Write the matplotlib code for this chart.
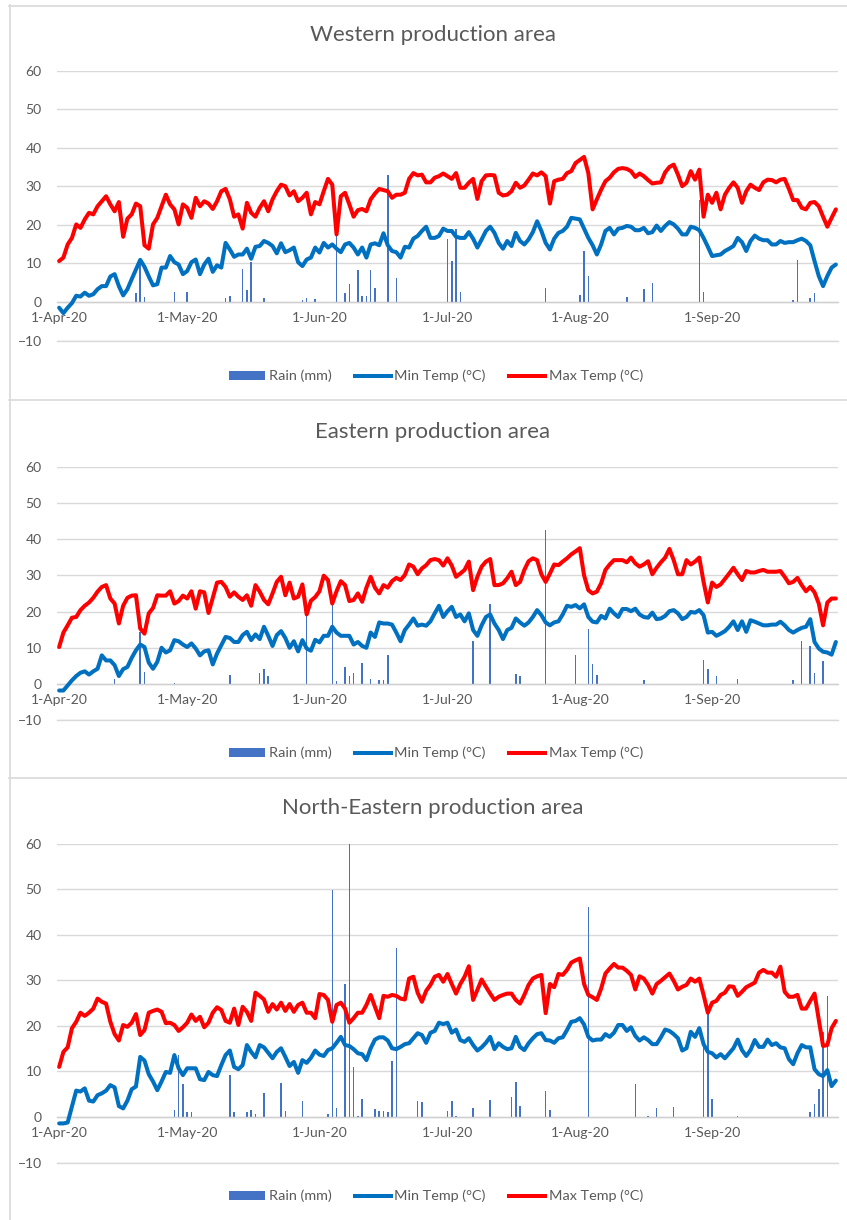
import matplotlib
matplotlib.use("Agg")
import matplotlib.pyplot as plt
import matplotlib.dates as mdates
import numpy as np
import pandas as pd
from matplotlib.lines import Line2D
from matplotlib.patches import Patch

plt.rcParams['font.family'] = ['Lato', 'DejaVu Sans']

# ---------------------------------------------------------------- data
season_days = pd.date_range('2020-04-01', '2020-09-30', freq='D')

west_title = 'Western production area'
west_max = [
    10.6, 11.5, 14.9, 16.6, 20.1, 19.2, 21.4, 23.1, 22.7, 24.8,
    26.1, 27.4, 25.3, 23.5, 25.9, 16.9, 21.6, 22.7, 25.5, 24.8,
    14.7, 13.8, 20.1, 21.8, 24.8, 27.8, 25.3, 24.0, 20.1, 25.3,
    24.4, 21.8, 27.0, 24.8, 26.1, 25.5, 24.1, 26.1, 28.7, 29.3,
    26.6, 22.1, 22.7, 19.0, 25.7, 23.1, 22.1, 24.4, 26.1, 23.5,
    26.6, 28.7, 30.4, 30.0, 27.6, 28.7, 26.1, 27.0, 28.3, 22.7,
    25.9, 25.3, 28.7, 31.9, 30.4, 17.5, 27.4, 28.3, 25.3, 22.1,
    23.8, 24.1, 23.5, 26.6, 28.1, 29.3, 29.0, 28.7, 27.0, 27.8,
    27.8, 28.3, 31.9, 33.4, 32.8, 33.0, 31.0, 31.0, 32.2, 32.6,
    33.3, 32.6, 31.9, 33.4, 29.6, 29.6, 30.9, 31.9, 26.7, 31.3,
    32.8, 32.9, 32.8, 28.3, 27.6, 27.8, 28.7, 30.9, 29.6, 30.2,
    31.7, 33.3, 32.8, 33.6, 32.6, 25.5, 31.3, 31.7, 31.9, 33.4,
    33.9, 36.0, 36.8, 37.6, 33.4, 24.0, 26.6, 29.1, 31.3, 32.2,
    33.6, 34.5, 34.7, 34.5, 33.9, 32.4, 33.3, 32.6, 31.6, 30.7,
    30.9, 31.0, 33.6, 35.0, 35.6, 33.0, 30.0, 30.9, 33.9, 31.7,
    34.3, 22.1, 27.8, 25.7, 28.3, 24.0, 27.8, 29.6, 31.0, 29.6,
    25.7, 28.7, 30.4, 29.6, 29.0, 31.0, 31.7, 31.6, 31.0, 31.7,
    31.9, 29.3, 26.4, 26.4, 24.4, 24.0, 25.7, 25.9, 24.8, 22.1,
    19.5, 21.8, 24.0,
]
west_min = [
    -1.5, -2.9, -1.5, -0.3, 1.6, 1.4, 2.4, 1.6, 2.0, 3.3,
    4.1, 4.1, 6.6, 7.2, 4.1, 1.7, 3.3, 5.9, 8.4, 10.9,
    9.1, 6.6, 4.3, 4.6, 8.9, 8.9, 11.9, 10.3, 9.7, 7.2,
    8.0, 10.3, 11.0, 7.2, 9.7, 11.2, 7.8, 9.5, 8.9, 15.3,
    13.6, 11.7, 12.3, 12.3, 13.8, 11.2, 14.3, 14.5, 15.8, 15.3,
    14.5, 12.6, 15.2, 12.9, 13.4, 14.1, 10.3, 9.3, 11.0, 11.5,
    14.1, 12.8, 15.3, 14.1, 14.9, 13.8, 12.9, 14.9, 15.3, 14.1,
    12.3, 14.1, 11.5, 14.9, 15.2, 14.7, 17.8, 14.7, 13.2, 12.9,
    11.5, 14.3, 14.1, 16.4, 17.1, 18.4, 19.5, 16.6, 16.6, 17.1,
    19.0, 18.4, 18.4, 16.9, 16.6, 16.6, 18.1, 16.4, 14.1, 16.2,
    18.4, 19.5, 17.9, 15.3, 13.8, 15.8, 14.5, 17.9, 15.8, 14.9,
    16.2, 18.1, 20.9, 18.4, 15.3, 13.6, 16.4, 17.9, 18.4, 19.5,
    21.8, 21.6, 21.4, 19.0, 16.6, 14.7, 12.3, 14.9, 18.4, 19.2,
    17.5, 19.0, 19.2, 19.7, 19.5, 18.6, 18.6, 19.2, 17.8, 18.1,
    19.8, 18.4, 19.7, 20.7, 20.1, 19.0, 17.5, 17.5, 19.5, 19.2,
    18.6, 16.6, 14.3, 11.9, 12.1, 12.3, 13.2, 13.8, 14.5, 16.6,
    15.5, 13.2, 15.8, 17.2, 16.4, 16.0, 16.0, 14.9, 14.9, 15.8,
    15.3, 15.5, 15.5, 16.0, 16.4, 15.8, 14.7, 10.6, 6.7, 4.1,
    6.7, 8.9, 9.7,
]
west_rain_dates = [
    '2020-04-19', '2020-04-20', '2020-04-21', '2020-04-28', '2020-05-01',
    '2020-05-10', '2020-05-11', '2020-05-14', '2020-05-15', '2020-05-16',
    '2020-05-19', '2020-05-28', '2020-05-29', '2020-05-31', '2020-06-05',
    '2020-06-07', '2020-06-08', '2020-06-10', '2020-06-11', '2020-06-12',
    '2020-06-13', '2020-06-14', '2020-06-17', '2020-06-19', '2020-07-01',
    '2020-07-02', '2020-07-03', '2020-07-04', '2020-07-24', '2020-08-01',
    '2020-08-02', '2020-08-03', '2020-08-12', '2020-08-16', '2020-08-18',
    '2020-08-29', '2020-08-30', '2020-09-20', '2020-09-21', '2020-09-24',
    '2020-09-25',
]
west_rain_mm = [
    2.4, 11.2, 1.3, 2.6, 2.6,
    0.9, 1.6, 8.6, 3.0, 10.3,
    1.1, 0.5, 0.9, 0.8, 19.5,
    2.4, 4.6, 8.2, 1.6, 1.6,
    8.4, 3.7, 32.8, 6.3, 16.4,
    10.6, 19.0, 2.6, 3.7, 1.7,
    13.2, 6.7, 1.3, 3.4, 5.0,
    26.3, 2.6, 0.4, 11.0, 1.1,
    2.2,
]

east_title = 'Eastern production area'
east_max = [
    10.2, 14.2, 16.2, 18.3, 18.5, 20.4, 21.6, 22.5, 23.8, 25.5,
    26.8, 27.3, 23.6, 22.2, 16.7, 21.6, 23.8, 24.4, 24.5, 15.3,
    13.9, 19.5, 21.0, 24.5, 24.4, 24.4, 25.6, 22.2, 22.9, 24.4,
    23.6, 25.6, 20.8, 25.6, 25.3, 19.6, 23.8, 28.0, 28.2, 26.8,
    24.1, 25.3, 24.1, 23.2, 24.5, 21.6, 27.3, 25.5, 23.2, 22.0,
    25.0, 28.2, 29.6, 24.5, 28.0, 23.6, 24.1, 27.5, 19.2, 23.0,
    24.0, 25.6, 29.9, 28.7, 22.2, 25.6, 28.4, 27.3, 22.9, 23.2,
    25.0, 22.7, 26.6, 29.6, 26.6, 25.0, 27.3, 26.6, 28.4, 29.3,
    28.7, 30.1, 33.0, 32.4, 30.3, 31.9, 32.8, 34.2, 34.5, 34.2,
    32.7, 34.7, 32.7, 29.6, 30.5, 31.5, 33.8, 25.9, 29.6, 32.4,
    33.8, 34.5, 27.3, 27.3, 27.8, 29.2, 31.0, 27.3, 28.2, 31.5,
    33.9, 34.7, 34.2, 30.3, 28.2, 30.5, 33.0, 32.8, 33.8, 34.7,
    35.8, 36.6, 37.5, 30.0, 25.9, 25.0, 25.5, 27.8, 31.5, 33.0,
    34.2, 34.2, 34.2, 33.6, 34.9, 33.3, 32.4, 33.0, 33.9, 30.3,
    32.1, 33.6, 34.9, 37.3, 34.2, 30.3, 30.3, 34.2, 33.0, 33.8,
    34.9, 28.2, 22.5, 28.0, 26.8, 27.5, 29.0, 30.5, 32.1, 30.3,
    28.7, 31.2, 30.8, 30.8, 31.2, 31.5, 31.0, 31.0, 31.0, 31.2,
    29.6, 27.8, 28.2, 29.3, 27.3, 25.6, 26.8, 25.3, 22.2, 16.2,
    22.5, 23.6, 23.6,
]
east_min = [
    -1.8, -1.8, -0.4, 1.0, 2.2, 3.1, 3.5, 2.6, 3.5, 4.2,
    7.9, 6.5, 6.5, 5.2, 2.2, 4.1, 4.7, 7.2, 9.3, 10.9,
    10.2, 5.9, 4.2, 6.1, 10.0, 8.7, 9.3, 12.1, 11.8, 10.9,
    10.2, 11.2, 9.8, 7.9, 9.0, 9.3, 5.4, 8.4, 10.7, 13.0,
    12.7, 11.6, 11.6, 13.5, 14.4, 12.1, 13.7, 12.4, 15.8, 13.3,
    10.5, 13.5, 14.6, 12.7, 10.0, 11.8, 9.0, 12.1, 9.8, 9.2,
    12.2, 11.5, 13.3, 13.3, 15.8, 14.2, 13.3, 13.3, 13.3, 10.9,
    11.6, 10.5, 10.0, 14.2, 13.0, 17.0, 16.7, 16.7, 16.4, 14.2,
    11.8, 14.9, 16.4, 18.1, 16.1, 16.4, 16.1, 17.3, 19.5, 21.6,
    18.5, 20.1, 21.3, 18.5, 19.2, 17.3, 19.5, 14.9, 13.3, 16.2,
    18.5, 19.2, 16.7, 14.9, 12.4, 14.9, 15.5, 18.1, 17.0, 16.1,
    17.0, 18.5, 20.4, 19.0, 17.0, 16.2, 17.0, 17.3, 19.2, 21.6,
    21.3, 21.8, 20.9, 22.0, 18.5, 17.2, 17.0, 18.8, 18.1, 20.8,
    19.5, 18.5, 20.7, 20.7, 20.1, 20.8, 19.2, 18.5, 18.3, 19.7,
    17.9, 18.1, 18.8, 20.1, 20.4, 19.5, 17.9, 18.5, 19.9, 19.7,
    20.4, 19.0, 14.2, 14.4, 13.3, 13.9, 14.6, 15.8, 17.3, 14.9,
    17.3, 14.4, 17.6, 17.2, 16.7, 16.2, 16.2, 16.4, 16.4, 17.2,
    16.2, 14.9, 14.2, 14.9, 15.5, 15.8, 17.9, 11.6, 9.8, 8.9,
    8.7, 8.1, 11.6,
]
east_rain_dates = [
    '2020-04-14', '2020-04-20', '2020-04-21', '2020-04-28', '2020-05-11',
    '2020-05-18', '2020-05-19', '2020-05-20', '2020-05-29', '2020-06-04',
    '2020-06-05', '2020-06-07', '2020-06-08', '2020-06-09', '2020-06-11',
    '2020-06-13', '2020-06-15', '2020-06-16', '2020-06-17', '2020-07-07',
    '2020-07-11', '2020-07-17', '2020-07-18', '2020-07-24', '2020-07-31',
    '2020-08-03', '2020-08-04', '2020-08-05', '2020-08-16', '2020-08-30',
    '2020-08-31', '2020-09-02', '2020-09-07', '2020-09-20', '2020-09-22',
    '2020-09-24', '2020-09-25', '2020-09-27',
]
east_rain_mm = [
    1.5, 14.4, 3.3, 0.4, 2.6,
    2.9, 4.1, 2.2, 19.2, 22.2,
    0.8, 4.7, 2.2, 3.0, 5.8,
    1.5, 1.0, 1.0, 7.9, 11.8,
    22.2, 2.7, 2.2, 42.5, 7.9,
    15.3, 5.4, 2.4, 1.2, 6.7,
    4.2, 2.1, 1.5, 1.0, 11.8,
    10.4, 3.0, 6.3,
]

ne_title = 'North-Eastern production area'
ne_max = [
    11.0, 14.3, 15.3, 19.5, 20.9, 22.9, 22.2, 22.9, 23.8, 26.0,
    25.3, 24.9, 20.9, 18.2, 16.8, 20.2, 19.8, 20.7, 22.6, 18.0,
    19.1, 22.9, 23.3, 23.6, 23.1, 20.6, 20.7, 20.2, 18.9, 19.7,
    20.7, 22.5, 21.1, 22.0, 19.7, 20.7, 22.9, 24.1, 23.5, 21.1,
    20.7, 23.8, 20.2, 24.2, 23.1, 21.1, 27.3, 26.6, 25.8, 23.1,
    24.8, 23.6, 25.1, 23.3, 24.8, 23.1, 24.6, 25.1, 22.9, 22.9,
    21.7, 27.0, 26.8, 25.7, 20.9, 24.6, 25.1, 23.8, 20.7, 21.7,
    22.9, 22.9, 24.6, 26.8, 24.2, 21.7, 26.6, 26.4, 26.8, 26.6,
    26.0, 25.8, 30.4, 30.8, 27.3, 25.3, 27.7, 29.0, 30.8, 31.2,
    29.7, 31.4, 29.2, 27.1, 29.2, 30.8, 33.1, 25.7, 27.9, 30.2,
    28.6, 27.1, 25.7, 26.4, 26.8, 27.1, 27.1, 25.7, 24.9, 26.8,
    29.0, 30.4, 30.9, 31.2, 22.8, 29.2, 28.5, 31.4, 31.2, 32.3,
    33.9, 34.4, 34.8, 29.2, 26.8, 26.3, 25.7, 28.2, 31.5, 32.6,
    33.6, 32.8, 32.8, 32.1, 31.2, 28.0, 30.9, 30.4, 29.0, 27.1,
    29.2, 29.9, 30.7, 31.5, 29.9, 28.0, 28.6, 29.0, 30.4, 29.7,
    30.4, 26.8, 22.9, 25.1, 25.5, 26.8, 27.3, 28.7, 28.6, 26.6,
    27.5, 28.5, 29.0, 29.5, 31.7, 32.3, 31.7, 31.7, 30.8, 33.0,
    27.5, 26.4, 26.4, 26.8, 23.8, 23.8, 25.5, 27.1, 21.4, 15.6,
    15.8, 19.5, 21.1,
]
ne_min = [
    -1.4, -1.4, -1.2, 2.3, 5.8, 5.6, 6.3, 3.6, 3.4, 4.8,
    5.2, 5.8, 7.0, 6.5, 2.4, 1.9, 3.6, 6.1, 6.7, 13.2,
    12.4, 9.4, 7.8, 5.9, 7.8, 9.9, 9.7, 13.6, 10.7, 9.2,
    10.7, 10.7, 10.7, 8.3, 8.1, 9.9, 9.2, 9.0, 11.4, 13.6,
    14.6, 11.0, 10.5, 11.4, 15.8, 14.3, 13.1, 15.8, 15.3, 14.1,
    12.9, 14.3, 15.1, 13.2, 11.2, 12.1, 9.7, 12.5, 11.9, 13.0,
    14.6, 13.7, 13.4, 14.7, 15.1, 16.3, 17.6, 15.8, 15.6, 14.9,
    14.0, 13.8, 12.5, 15.1, 17.0, 17.5, 17.5, 16.8, 15.1, 14.9,
    15.4, 16.0, 16.2, 17.3, 18.4, 18.0, 16.3, 18.5, 18.9, 20.7,
    20.4, 20.7, 18.5, 19.2, 16.9, 16.5, 17.3, 15.8, 14.6, 15.3,
    16.3, 17.6, 14.9, 16.2, 15.4, 14.9, 15.1, 17.6, 15.4, 14.7,
    16.2, 17.3, 18.2, 18.4, 16.9, 16.8, 16.3, 17.3, 17.5, 19.1,
    20.9, 21.1, 21.7, 20.3, 17.6, 16.8, 17.0, 17.0, 18.2, 17.6,
    18.5, 20.2, 20.2, 18.9, 19.7, 17.8, 16.8, 17.5, 16.9, 16.0,
    16.0, 17.5, 19.2, 18.9, 18.2, 17.3, 14.6, 15.1, 18.7, 17.6,
    19.5, 16.0, 14.3, 14.0, 13.1, 13.8, 12.9, 14.0, 15.1, 17.0,
    14.7, 13.4, 14.7, 16.9, 15.4, 15.4, 17.0, 15.8, 16.2, 15.3,
    15.1, 12.7, 11.6, 14.0, 15.8, 15.3, 15.3, 10.5, 9.4, 9.0,
    10.3, 6.8, 8.0,
]
ne_rain_dates = [
    '2020-04-28', '2020-04-29', '2020-04-30', '2020-05-01', '2020-05-02',
    '2020-05-11', '2020-05-12', '2020-05-15', '2020-05-16', '2020-05-17',
    '2020-05-19', '2020-05-23', '2020-05-24', '2020-05-28', '2020-06-03',
    '2020-06-04', '2020-06-05', '2020-06-07', '2020-06-08', '2020-06-09',
    '2020-06-10', '2020-06-11', '2020-06-14', '2020-06-15', '2020-06-16',
    '2020-06-17', '2020-06-18', '2020-06-19', '2020-06-24', '2020-06-25',
    '2020-07-01', '2020-07-02', '2020-07-03', '2020-07-07', '2020-07-11',
    '2020-07-16', '2020-07-17', '2020-07-18', '2020-07-24', '2020-07-25',
    '2020-08-03', '2020-08-14', '2020-08-17', '2020-08-19', '2020-08-23',
    '2020-08-30', '2020-08-31', '2020-09-01', '2020-09-07', '2020-09-24',
    '2020-09-25', '2020-09-26', '2020-09-27', '2020-09-28',
]
ne_rain_mm = [
    1.5, 13.6, 7.2, 1.0, 1.2,
    9.2, 1.2, 1.2, 1.5, 0.7,
    5.3, 7.5, 1.4, 3.6, 0.7,
    49.8, 2.0, 29.2, 60.0, 10.9,
    0.2, 3.9, 1.7, 1.4, 1.3,
    1.2, 12.4, 37.0, 3.6, 3.4,
    1.3, 3.6, 0.2, 1.9, 3.7,
    4.5, 7.8, 2.4, 5.8, 1.5,
    46.2, 7.2, 0.2, 2.0, 2.3,
    16.0, 23.0, 3.9, 0.2, 1.2,
    2.9, 6.1, 18.7, 26.6,
]

y_ticks = list(range(-10, 61, 10))
legend_labels = ['Rain (mm)', 'Min Temp (°C)', 'Max Temp (°C)']

# ---------------------------------------------------------------- style
W, H = 847, 1220
RAIN_C = '#4472C4'
MIN_C = '#0070C0'
MAX_C = '#FF0000'
GRID_C = '#D9D9D9'
TEXT_C = '#595959'
BORDER_C = '#D9D9D9'

fig = plt.figure(figsize=(W / 100, H / 100), dpi=100)
fig.patch.set_facecolor('white')


def px_axes(left, top, right, bottom):
    return fig.add_axes([left / W, 1 - bottom / H, (right - left) / W, (bottom - top) / H])


def fig_line(x0, y0, x1, y1):
    fig.add_artist(Line2D([x0 / W, x1 / W], [1 - y0 / H, 1 - y1 / H],
                          transform=fig.transFigure, color=BORDER_C, lw=1.2))


panels = [
    dict(title=west_title, tmax=west_max, tmin=west_min,
         rdates=west_rain_dates, rmm=west_rain_mm,
         title_y=35, top=70.5, bottom=340.5, legend_y=376),
    dict(title=east_title, tmax=east_max, tmin=east_min,
         rdates=east_rain_dates, rmm=east_rain_mm,
         title_y=432, top=466.7, bottom=720.2, legend_y=753),
    dict(title=ne_title, tmax=ne_max, tmin=ne_min,
         rdates=ne_rain_dates, rmm=ne_rain_mm,
         title_y=808, top=843.7, bottom=1162.6, legend_y=1196),
]

x_left = mdates.date2num(season_days[0]) - 0.5
x_right = mdates.date2num(season_days[-1]) + 0.5
month_starts = pd.date_range('2020-04-01', '2020-09-01', freq='MS')

for p in panels:
    ax = px_axes(57, p['top'], 838, p['bottom'])
    ax.set_facecolor('none')

    rain_x = pd.to_datetime(p['rdates'])
    ax.bar(rain_x, p['rmm'], width=0.36, color=RAIN_C, linewidth=0,
           zorder=2, label=legend_labels[0])
    ax.plot(season_days, p['tmin'], color=MIN_C, lw=2.9,
            solid_joinstyle='round', solid_capstyle='round', zorder=3,
            label=legend_labels[1])
    ax.plot(season_days, p['tmax'], color=MAX_C, lw=2.9,
            solid_joinstyle='round', solid_capstyle='round', zorder=4,
            label=legend_labels[2])

    ax.set_ylim(y_ticks[0], y_ticks[-1])
    ax.set_xlim(x_left, x_right)
    ax.set_yticks(y_ticks)
    ax.yaxis.grid(True, color=GRID_C, lw=1.0)
    ax.set_axisbelow(True)

    ax.set_xticks(month_starts)
    ax.xaxis.set_major_formatter(mdates.DateFormatter('%-d-%b-%y'))

    for side in ('top', 'right', 'left'):
        ax.spines[side].set_visible(False)
    ax.spines['bottom'].set_position(('data', 0))
    ax.spines['bottom'].set_color('#D0D0D0')
    ax.spines['bottom'].set_linewidth(1.0)

    ax.tick_params(axis='y', length=0, pad=11, labelsize=10, labelcolor=TEXT_C)
    ax.tick_params(axis='x', length=0, pad=7, labelsize=10, labelcolor=TEXT_C)

    # lowest value line along the bottom of the plotting area
    ax.axhline(y_ticks[0], color=GRID_C, lw=1.0, clip_on=False, zorder=1)

    fig.text(433 / W, 1 - p['title_y'] / H, p['title'], ha='center', va='center',
             fontsize=16, color=TEXT_C)

    handles = [
        Patch(facecolor=RAIN_C, edgecolor='none'),
        Line2D([0], [0], color=MIN_C, lw=2.9),
        Line2D([0], [0], color=MAX_C, lw=2.9),
    ]
    fig.legend(handles, legend_labels, loc='center',
               bbox_to_anchor=(436 / W, 1 - p['legend_y'] / H), ncol=3,
               frameon=False, fontsize=10.4, labelcolor=TEXT_C,
               handlelength=2.5, handleheight=0.55, handletextpad=0.25,
               columnspacing=1.6)

# panel frames
fig_line(9.5, 5, 9.5, H)
fig_line(9, 5.5, W, 5.5)
fig_line(9, 400, W, 400)
fig_line(9, 778, W, 778)

fig.savefig('out.png', dpi=100, facecolor='white')
